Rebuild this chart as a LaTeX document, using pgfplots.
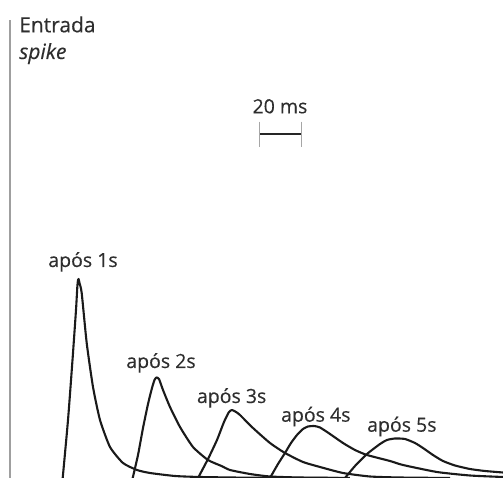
\documentclass[border=0pt]{standalone}
\usepackage{pgfplots}
\pgfplotsset{compat=1.18}
\usepackage{fontspec}
\setmainfont{Open Sans}[FakeBold=0.35]
\newfontfamily\lblfont{Open Sans}[FakeBold=0.35]
\definecolor{txt}{HTML}{2E2E2E}
\definecolor{crv}{HTML}{1A1A1A}
\begin{document}
\begin{tikzpicture}
\begin{axis}[
  width=503pt, height=478pt, scale only axis,
  xmin=-29.58, xmax=207.7, ymin=0, ymax=478,
  hide axis,
  every axis plot/.append style={crv, line width=2.1pt, line join=round},
]
% curve after 1 s (x in ms, y amplitude)
\addplot[smooth, tension=0.35] coordinates {
(0,0) (2.50,58) (4.62,118) (6.27,168) (6.89,191) (7.22,198) (7.50,199) (7.92,195)
(8.96,185) (11.32,135) (14.29,91) (17.59,58) (22.31,31) (28.44,15) (35.05,8)
(41.18,5) (52.97,2) (64.76,1) (88.35,0.3) (130,0)};
% after 2 s
\addplot[smooth, tension=0.35] coordinates {
(33.02,0) (35.52,23) (37.88,50) (40.24,74) (42.12,90) (43.30,98) (44.25,100.5)
(45.42,99) (47.31,88) (50.61,71) (55.33,51) (61.46,31) (68.54,18) (74.91,12)
(78.92,8) (88.35,4) (97.78,1.5) (111.9,0.5) (135.5,0)};
% after 3 s
\addplot[smooth, tension=0.35] coordinates {
(63.82,0) (68.54,19) (72.78,38) (76.08,56) (78.44,66) (79.86,68) (81.75,66)
(83.63,63) (89.76,50) (97.78,35) (104.86,25) (113.35,16) (121.37,11) (132.22,5)
(144.95,1.5) (159.1,0.5) (182.7,0)};
% after 4 s
\addplot[smooth, tension=0.35] coordinates {
(97.78,0) (101.56,14) (104.86,25) (107.69,35) (110.52,43) (113.35,49) (115.71,51.5)
(118.54,52) (121.37,50.5) (126.09,44) (132.22,35) (137.88,28) (143.54,23)
(154.39,17) (160.52,13) (176.56,6) (192.12,2.5) (207.7,1)};
% after 5 s
\addplot[smooth, tension=0.35] coordinates {
(133.16,0) (137.88,12) (143.54,24) (149.67,34) (152.97,38) (156.75,39.5)
(161.46,39) (166.18,35) (169.95,30) (174.67,23) (179.39,17) (185.05,12.5)
(192.12,9) (199.20,7) (207.7,5.5)};
% left marker line
\draw[gray!75, line width=1.3pt] (axis cs:-24.86,0) -- (axis cs:-24.86,458);
% labels
\node[txt, anchor=base west, font=\lblfont\fontsize{21}{24}\selectfont, inner sep=0pt] at (axis cs:-20.6,445.7) {Entrada};
\node[txt, anchor=base west, font=\lblfont\fontsize{21}{24}\selectfont\itshape, inner sep=0pt] at (axis cs:-20.6,419) {spike};
\node[txt, anchor=base, font=\lblfont\fontsize{19.5}{22}\selectfont, inner sep=0pt] at (axis cs:9.58,211) {após 1s};
\node[txt, anchor=base, font=\lblfont\fontsize{19.5}{22}\selectfont, inner sep=0pt] at (axis cs:46.37,110) {após 2s};
\node[txt, anchor=base, font=\lblfont\fontsize{19.5}{22}\selectfont, inner sep=0pt] at (axis cs:79.7,75) {após 3s};
\node[txt, anchor=base, font=\lblfont\fontsize{19.5}{22}\selectfont, inner sep=0pt] at (axis cs:119.4,56.3) {após 4s};
\node[txt, anchor=base, font=\lblfont\fontsize{19.5}{22}\selectfont, inner sep=0pt] at (axis cs:160.0,46.3) {após 5s};
% scale bar 20 ms
\node[txt, anchor=base, font=\lblfont\fontsize{19.5}{22}\selectfont, inner sep=0pt] at (axis cs:102.5,364.7) {20 ms};
\draw[black!85, line width=2.2pt] (axis cs:92.7,344) -- (axis cs:112.7,344);
\draw[gray!70, line width=0.8pt] (axis cs:92.7,356.3) -- (axis cs:92.7,331.3);
\draw[gray!70, line width=0.8pt] (axis cs:112.7,356.3) -- (axis cs:112.7,331.3);
\end{axis}
\path[use as bounding box] (current axis.south west) rectangle (current axis.north east);
\end{tikzpicture}
\end{document}
